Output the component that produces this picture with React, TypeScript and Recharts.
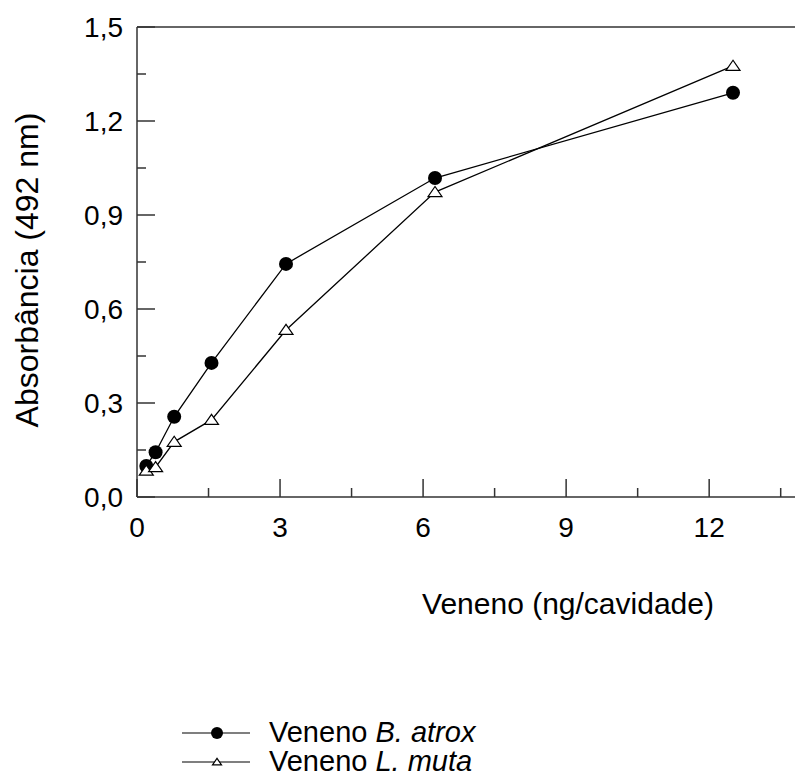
import React from "react";
import { LineChart, Line, XAxis, YAxis, Legend, ReferenceLine } from "recharts";

// venom amount per well (ng), doubling dilutions
const doses = [0.195, 0.39, 0.78, 1.5625, 3.125, 6.25, 12.5];
const atroxAbs = [0.099, 0.143, 0.256, 0.428, 0.744, 1.018, 1.29];
const mutaAbs = [0.084, 0.095, 0.176, 0.246, 0.533, 0.973, 1.376];

const xTicks = [0, 1.5, 3, 4.5, 6, 7.5, 9, 10.5, 12, 13.5];
const xLabels = [0, 3, 6, 9, 12];
const yTicks = [0, 0.15, 0.3, 0.45, 0.6, 0.75, 0.9, 1.05, 1.2, 1.35, 1.5];
const yLabels = [0, 0.3, 0.6, 0.9, 1.2, 1.5];

const series = [
  { name: "atrox", prefix: "Veneno ", species: "B. atrox", values: atroxAbs, marker: "circle" },
  { name: "muta", prefix: "Veneno ", species: "L. muta", values: mutaAbs, marker: "triangle" },
];

const toPoints = (values: number[]) => doses.map((x, i) => ({ x, y: values[i] }));

const FONT = "'Liberation Sans', Arial, sans-serif";
const AXIS_COLOR = "#333";
const X_MARGIN = 20;
const Y_MARGIN = 14;
const TICK_FONT = 28;
const LABEL_FONT = 30;

const isLabel = (list: number[], v: number) => list.some((l) => Math.abs(l - v) < 1e-6);
const fmt = (v: number) => v.toFixed(1).replace(".", ",");

function XTick(props: any) {
  const { x, y, payload } = props;
  const major = isLabel(xLabels, payload.value);
  const base = y - X_MARGIN;
  return (
    <g>
      <line x1={x} x2={x} y1={base} y2={base - (major ? 18 : 9)} stroke={AXIS_COLOR} strokeWidth={1.5} />
      {major && (
        <text x={x} y={y} dy="0.71em" textAnchor="middle" fontSize={TICK_FONT} fill="#000">
          {payload.value}
        </text>
      )}
    </g>
  );
}

function YTick(props: any) {
  const { x, y, payload } = props;
  const major = isLabel(yLabels, payload.value);
  const base = x + Y_MARGIN;
  return (
    <g>
      <line x1={base} x2={base + (major ? 18 : 9)} y1={y} y2={y} stroke={AXIS_COLOR} strokeWidth={1.5} />
      {major && (
        <text x={x} y={y} dy="0.355em" textAnchor="end" fontSize={TICK_FONT} fill="#000">
          {fmt(payload.value)}
        </text>
      )}
    </g>
  );
}

function Triangle({ cx, cy, half = 7 }: any) {
  if (cx == null || cy == null) return null;
  const h = half * 0.8;
  return (
    <polygon
      points={`${cx},${cy - h} ${cx - half},${cy + h * 0.8} ${cx + half},${cy + h * 0.8}`}
      fill="#fff"
      stroke="#000"
      strokeWidth={1.2}
    />
  );
}

function CircleDot({ cx, cy, radius = 7 }: any) {
  if (cx == null || cy == null) return null;
  return <circle cx={cx} cy={cy} r={radius} fill="#000" />;
}

function YLabel({ viewBox }: any) {
  const cx = viewBox.x + 27;
  const cy = viewBox.y + viewBox.height / 2 + 8;
  return (
    <text x={cx} y={cy} dy="0.355em" textAnchor="middle" fontSize={32} transform={`rotate(-90, ${cx}, ${cy})`}>
      Absorbância (492 nm)
    </text>
  );
}

function LegendBox() {
  return (
    <div style={{ fontFamily: FONT, fontSize: 29, color: "#000" }}>
      {series.map((s) => (
        <div key={s.name} style={{ display: "flex", alignItems: "center", height: 29 }}>
          <svg width={68} height={20} style={{ marginRight: 19, flex: "none" }}>
            <line x1={0} x2={68} y1={10} y2={10} stroke="#000" strokeWidth={1.2} />
            {s.marker === "circle" ? (
              <CircleDot cx={35} cy={10} radius={6} />
            ) : (
              <Triangle cx={35} cy={10} half={4.5} />
            )}
          </svg>
          <span style={{ whiteSpace: "nowrap", lineHeight: "29px" }}>
            {s.prefix}
            <i>{s.species}</i>
          </span>
        </div>
      ))}
    </div>
  );
}

export default function App() {
  return (
    <div style={{ position: "absolute", left: 0, top: 0, width: 795, height: 776, background: "#fff", fontFamily: FONT }}>
      <LineChart width={795} height={776} margin={{ top: 27, right: 0, bottom: 0, left: 0 }}>
        <XAxis
          type="number"
          dataKey="x"
          domain={[0, 13.8]}
          ticks={xTicks}
          interval={0}
          height={279}
          tickSize={0}
          tickMargin={X_MARGIN}
          tick={<XTick />}
          axisLine={{ stroke: AXIS_COLOR, strokeWidth: 1.5 }}
          allowDataOverflow
          label={{ value: "Veneno (ng/cavidade)", position: "insideTop", offset: 96, dx: 102, fontSize: LABEL_FONT, fill: "#000" }}
        />
        <YAxis
          type="number"
          dataKey="y"
          domain={[0, 1.5]}
          ticks={yTicks}
          interval={0}
          width={137}
          tickSize={0}
          tickMargin={Y_MARGIN}
          tick={<YTick />}
          axisLine={{ stroke: AXIS_COLOR, strokeWidth: 1.5 }}
          label={{ content: <YLabel /> }}
        />
        <ReferenceLine y={1.5} stroke={AXIS_COLOR} strokeWidth={1.5} />
        {series.map((s) => (
          <Line
            key={s.name}
            data={toPoints(s.values)}
            dataKey="y"
            name={s.name}
            type="linear"
            stroke="#000"
            strokeWidth={1.3}
            dot={s.marker === "circle" ? <CircleDot /> : <Triangle />}
            activeDot={false}
            isAnimationActive={false}
          />
        ))}
        <Legend
          layout="vertical"
          align="center"
          verticalAlign="middle"
          wrapperStyle={{ left: 182, top: 718, width: 400 }}
          content={<LegendBox />}
        />
      </LineChart>
    </div>
  );
}
